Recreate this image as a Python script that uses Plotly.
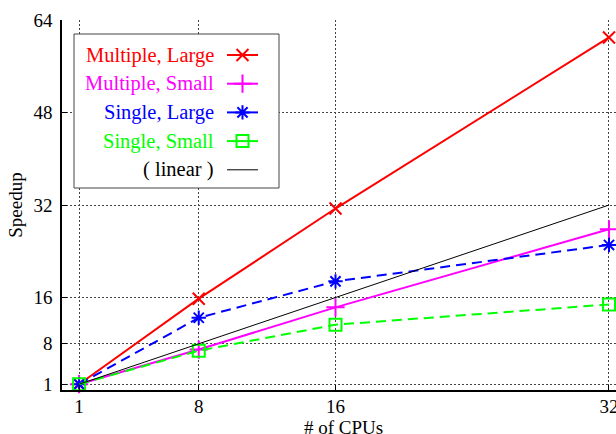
import plotly.graph_objects as go

cpus = [1, 8, 16, 32]
multiple_large = [1, 15.8, 31.4, 61.0]
multiple_small = [1, 7.0, 14.3, 27.8]
single_large = [1, 12.5, 18.8, 25.1]
single_small = [1, 6.8, 11.3, 14.8]
linear = [1, 8, 16, 32]

x_ticks = [1, 8, 16, 32]
y_ticks = [1, 8, 16, 32, 48, 64]

names = ["Multiple, Large", "Multiple, Small", "Single, Large", "Single, Small", "( linear )"]
series = [multiple_large, multiple_small, single_large, single_small, linear]
colors = ["#ff0000", "#ff00ff", "#0000ff", "#00ff00", "#000000"]
symbols = ["x-thin-open", "cross-thin-open", "asterisk-open", "square-open", None]
dashes = ["solid", "solid", "10px,6px", "10px,6px", "solid"]
widths = [2, 2, 2, 2, 1]
msizes = [12, 13, 12, 12, 0]

FONT = "Liberation Serif"
W, H = 616, 434
L, R, T, B = 62, 0, 20, 44

fig = go.Figure()
for name, ys, c, s, d, w, ms in zip(names, series, colors, symbols, dashes, widths, msizes):
    fig.add_trace(go.Scatter(
        x=cpus, y=ys, name=name,
        mode="lines+markers" if s else "lines",
        line=dict(color=c, width=w, dash=d),
        marker=dict(symbol=s, size=ms, color=c, line=dict(color=c, width=2)) if s else None,
        showlegend=False, cliponaxis=False,
    ))

# manual gnuplot-style legend (pixel coordinates on an overlay axis)
box = dict(x0=74, x1=279, y0=34, y1=188)
row_y0, row_dy = 55, 28.7
text_right = 216
samp_x0, samp_x1, samp_xm = 227, 258, 242.5

fig.add_trace(go.Scatter(
    x=[box["x0"], box["x1"], box["x1"], box["x0"], box["x0"]],
    y=[box["y0"], box["y0"], box["y1"], box["y1"], box["y0"]],
    xaxis="x2", yaxis="y2", mode="lines", fill="toself", fillcolor="white",
    line=dict(color="#444444", width=1), showlegend=False, hoverinfo="skip"))
for i, (name, c, s, d, w, ms) in enumerate(zip(names, colors, symbols, dashes, widths, msizes)):
    yy = row_y0 + i * row_dy
    fig.add_trace(go.Scatter(x=[samp_x0, samp_x1], y=[yy, yy], xaxis="x2", yaxis="y2",
                             mode="lines", line=dict(color=c, width=w),
                             showlegend=False, hoverinfo="skip"))
    if s:
        fig.add_trace(go.Scatter(x=[samp_xm], y=[yy], xaxis="x2", yaxis="y2",
                                 mode="markers",
                                 marker=dict(symbol=s, size=ms, color=c, line=dict(color=c, width=2)),
                                 showlegend=False, hoverinfo="skip"))
    fig.add_annotation(x=text_right, y=yy, xref="x2", yref="y2", text=name,
                       showarrow=False, xanchor="right", yanchor="middle",
                       font=dict(family=FONT, size=20.5, color=c))

# x-axis title placed just below the tick labels, as in the reference
xtitle_px, xtitle_py = 343, 427
fig.add_annotation(x=(xtitle_px - L) / (W - L - R), y=((H - B) - xtitle_py) / (H - B - T),
                   xref="paper", yref="paper", text="# of CPUs", showarrow=False,
                   xanchor="center", yanchor="middle", font=dict(family=FONT, size=19))

fig.update_layout(
    width=W, height=H,
    margin=dict(l=L, r=R, t=T, b=B, autoexpand=False),
    paper_bgcolor="white", plot_bgcolor="white",
    font=dict(family=FONT, size=19, color="black"),
    xaxis=dict(
        range=[0, 32.41], tickvals=x_ticks, ticktext=[str(v) for v in x_ticks],
        showgrid=True, gridcolor="#444444", griddash="2px,2px", gridwidth=1,
        showline=True, linecolor="black", linewidth=1.5,
        ticks="inside", ticklen=5, tickcolor="black", zeroline=False,
        ticklabelstandoff=-2, automargin=False, ticklabeloverflow="allow",
    ),
    yaxis=dict(
        range=[0, 64.02], tickvals=y_ticks, ticktext=[str(v) for v in y_ticks],
        showgrid=True, gridcolor="#444444", griddash="2px,2px", gridwidth=1,
        showline=True, linecolor="black", linewidth=1.5,
        ticks="inside", ticklen=5, tickcolor="black", zeroline=False,
        ticklabelstandoff=4, automargin=False, ticklabeloverflow="allow",
        title=dict(text="Speedup", standoff=6, font=dict(size=19)),
    ),
    xaxis2=dict(range=[L, W - R], overlaying="x", visible=False, fixedrange=True),
    yaxis2=dict(range=[H - B, T], overlaying="y", visible=False, fixedrange=True),
)

fig.write_html("out.html", config={"displayModeBar": False},
               post_script="document.body.style.margin='0';")
